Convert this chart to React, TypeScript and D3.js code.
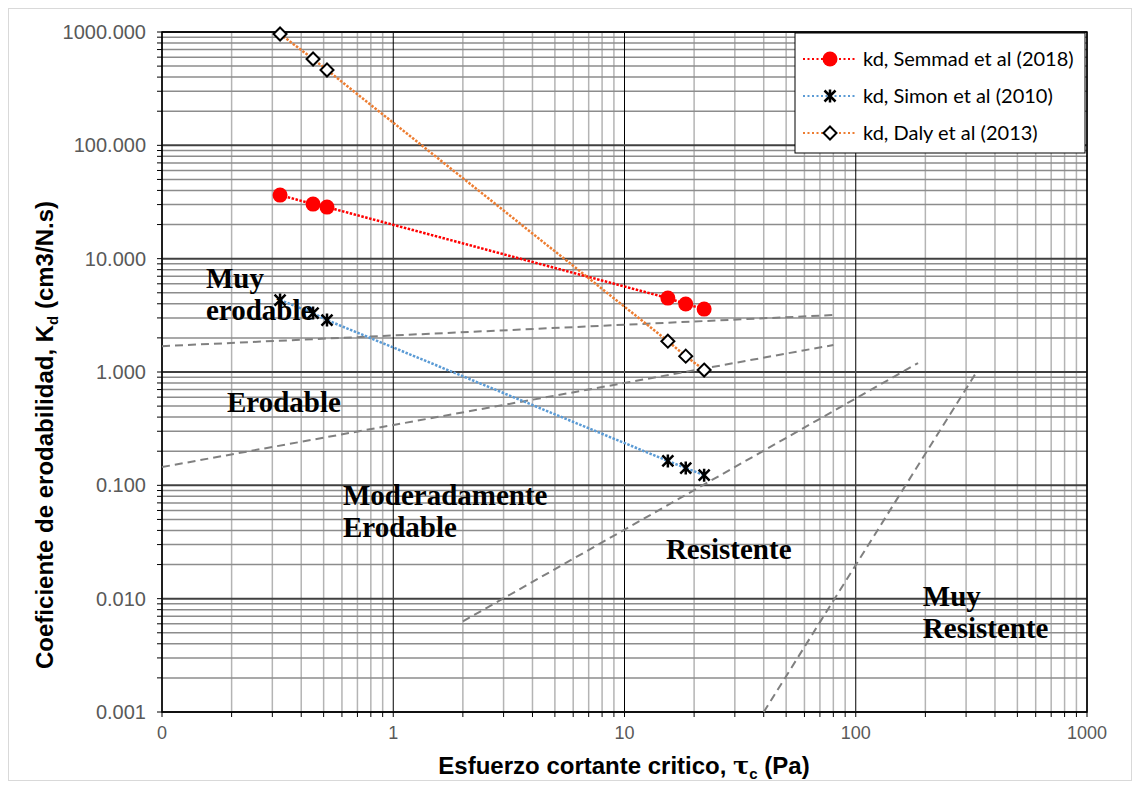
import React from "react";
import * as d3 from "d3";

const tauC = [0.324, 0.45, 0.517, 15.4, 18.4, 22.1];
const kdSemmad = [36.4, 30.3, 28.5, 4.49, 3.98, 3.59];
const kdSimon = [4.31, 3.31, 2.87, 0.164, 0.142, 0.123];
const kdDaly = [960, 578, 462, 1.87, 1.38, 1.04];

const xTickValues = [0.1, 1, 10, 100, 1000];
const xTickLabels = ["0", "1", "10", "100", "1000"];
const yTickValues = [0.001, 0.01, 0.1, 1, 10, 100, 1000];
const yTickLabels = ["0.001", "0.010", "0.100", "1.000", "10.000", "100.000", "1000.000"];

const boundaryLines: [number, number][][] = [
  [[0.1, 1.69], [80, 3.18]],
  [[0.1, 0.145], [80, 1.73]],
  [[2, 0.0063], [186, 1.2]],
  [[40, 0.001], [335, 1.02]],
];

const regionLabels = [
  { lines: ["Muy", "erodable"], x: 0.155, y: 5.5 },
  { lines: ["Erodable"], x: 0.191, y: 0.444 },
  { lines: ["Moderadamente", "Erodable"], x: 0.606, y: 0.067 },
  { lines: ["Resistente"], x: 15.1, y: 0.0224 },
  { lines: ["Muy", "Resistente"], x: 195, y: 0.0086 },
];

const seriesNames = ["kd, Semmad et al (2018)", "kd, Simon et al (2010)", "kd, Daly et al (2013)"];

const L = 162, R = 1087, T = 32, B = 712;

export default function App() {
  const x = d3.scaleLog().domain([0.1, 1000]).range([L, R]);
  const y = d3.scaleLog().domain([0.001, 1000]).range([B, T]);

  const minorX: number[] = [];
  const minorY: number[] = [];
  for (let e = -1; e < 3; e++) for (let m = 2; m <= 9; m++) minorX.push(m * Math.pow(10, e));
  for (let e = -3; e < 3; e++) for (let m = 2; m <= 9; m++) minorY.push(m * Math.pow(10, e));

  const line = d3
    .line<[number, number]>()
    .x((d) => x(d[0]))
    .y((d) => y(d[1]));

  const series = [
    { name: seriesNames[0], vals: kdSemmad, color: "#ff0000", marker: "circle" },
    { name: seriesNames[1], vals: kdSimon, color: "#5b9bd5", marker: "star" },
    { name: seriesNames[2], vals: kdDaly, color: "#ed7d31", marker: "diamond" },
  ];

  const marker = (type: string, cx: number, cy: number, key: string) => {
    if (type === "circle") return <circle key={key} cx={cx} cy={cy} r={7.5} fill="#ff0000" />;
    if (type === "diamond")
      return (
        <path
          key={key}
          d={`M${cx},${cy - 6.5}L${cx + 6.5},${cy}L${cx},${cy + 6.5}L${cx - 6.5},${cy}Z`}
          fill="#fff"
          stroke="#000"
          strokeWidth={2}
        />
      );
    const s = 5.5;
    return (
      <path
        key={key}
        d={`M${cx - s},${cy - s}L${cx + s},${cy + s}M${cx - s},${cy + s}L${cx + s},${cy - s}M${cx},${cy - s - 1}L${cx},${cy + s + 1}`}
        stroke="#000"
        strokeWidth={2.5}
        fill="none"
      />
    );
  };

  const serif = "'Liberation Serif', 'Times New Roman', serif";
  const sans = "'Liberation Sans', Arial, sans-serif";

  return (
    <svg width={1140} height={789} style={{ position: "absolute", left: 0, top: 0, display: "block" }}>
      <rect x={0} y={0} width={1140} height={789} fill="#fff" />
      <rect x={8.5} y={8.5} width={1123} height={772} fill="#fff" stroke="#d9d9d9" strokeWidth={1} />

      {/* minor grid */}
      {minorX.map((v) => (
        <line key={"mx" + v} x1={x(v)} x2={x(v)} y1={T} y2={B} stroke="#b4b4b4" strokeWidth={1.5} />
      ))}
      {minorY.map((v) => (
        <line key={"my" + v} x1={L} x2={R} y1={y(v)} y2={y(v)} stroke="#8c8c8c" strokeWidth={1.5} />
      ))}
      {/* major grid */}
      {xTickValues.map((v) => (
        <line key={"Mx" + v} x1={x(v)} x2={x(v)} y1={T} y2={B} stroke="#000" strokeWidth={1} />
      ))}
      {yTickValues.map((v) => (
        <line key={"My" + v} x1={L} x2={R} y1={y(v)} y2={y(v)} stroke="#404040" strokeWidth={2} />
      ))}

      {/* ticks */}
      {minorY.concat(yTickValues).map((v) => (
        <line key={"ty" + v} x1={L - 5} x2={L} y1={y(v)} y2={y(v)} stroke="#000" strokeWidth={1} />
      ))}
      {minorX.concat(xTickValues).map((v) => (
        <line key={"tx" + v} x1={x(v)} x2={x(v)} y1={B} y2={B + 5} stroke="#000" strokeWidth={1} />
      ))}

      {/* plot border */}
      <rect x={L} y={T} width={R - L} height={B - T} fill="none" stroke="#000" strokeWidth={1.5} />

      {/* boundary lines */}
      {boundaryLines.map((seg, i) => (
        <path key={"b" + i} d={line(seg) || ""} stroke="#808080" strokeWidth={2} strokeDasharray="8,5" fill="none" />
      ))}

      {/* series lines */}
      {series.map((s) => (
        <path
          key={"l" + s.name}
          d={line(tauC.map((t, i) => [t, s.vals[i]] as [number, number])) || ""}
          stroke={s.color}
          strokeWidth={2.5}
          strokeDasharray="2.5,1.5"
          fill="none"
        />
      ))}
      {series.map((s) => tauC.map((t, i) => marker(s.marker, x(t), y(s.vals[i]), s.name + i)))}

      {/* region labels */}
      {regionLabels.map((r, i) => (
        <text key={"r" + i} x={x(r.x)} y={y(r.y)} fontFamily={serif} fontWeight="bold" fontSize={29} fill="#000">
          {r.lines.map((ln, j) => (
            <tspan key={j} x={x(r.x)} dy={j === 0 ? 0 : 32}>
              {ln}
            </tspan>
          ))}
        </text>
      ))}

      {/* axis labels */}
      {yTickValues.map((v, i) => (
        <text key={"yl" + v} x={146} y={y(v)} dy="0.35em" textAnchor="end" fontFamily={sans} fontSize={20} fill="#595959">
          {yTickLabels[i]}
        </text>
      ))}
      {xTickValues.map((v, i) => (
        <text key={"xl" + v} x={x(v)} y={739} textAnchor="middle" fontFamily={sans} fontSize={18} fill="#595959">
          {xTickLabels[i]}
        </text>
      ))}

      <text x={624} y={774} textAnchor="middle" fontFamily={sans} fontWeight="bold" fontSize={24} fill="#000">
        Esfuerzo cortante critico, <tspan fontFamily="'DejaVu Serif', serif">τ</tspan>
        <tspan fontSize={15} dy={5}>c</tspan>
        <tspan dy={-5}> (Pa)</tspan>
      </text>
      <text
        transform="translate(53,435) rotate(-90)"
        textAnchor="middle"
        fontFamily={sans}
        fontWeight="bold"
        fontSize={24}
        fill="#000"
      >
        Coeficiente de erodabilidad, K<tspan fontSize={15} dy={5}>d</tspan>
        <tspan dy={-5}> (cm3/N.s)</tspan>
      </text>

      {/* legend */}
      <rect x={795} y={33} width={290} height={120} fill="#fff" stroke="#000" strokeWidth={1} />
      {series.map((s, i) => {
        const ly = 59 + i * 37;
        return (
          <g key={"lg" + i}>
            <line x1={803} x2={857} y1={ly} y2={ly} stroke={s.color} strokeWidth={2} strokeDasharray="2,2.5" />
            {marker(s.marker, 830, ly, "lm" + i)}
            <text x={863} y={ly} dy="0.35em" fontFamily="Lato, 'Open Sans', sans-serif" fontSize={20} fill="#000">
              {s.name}
            </text>
          </g>
        );
      })}
    </svg>
  );
}
